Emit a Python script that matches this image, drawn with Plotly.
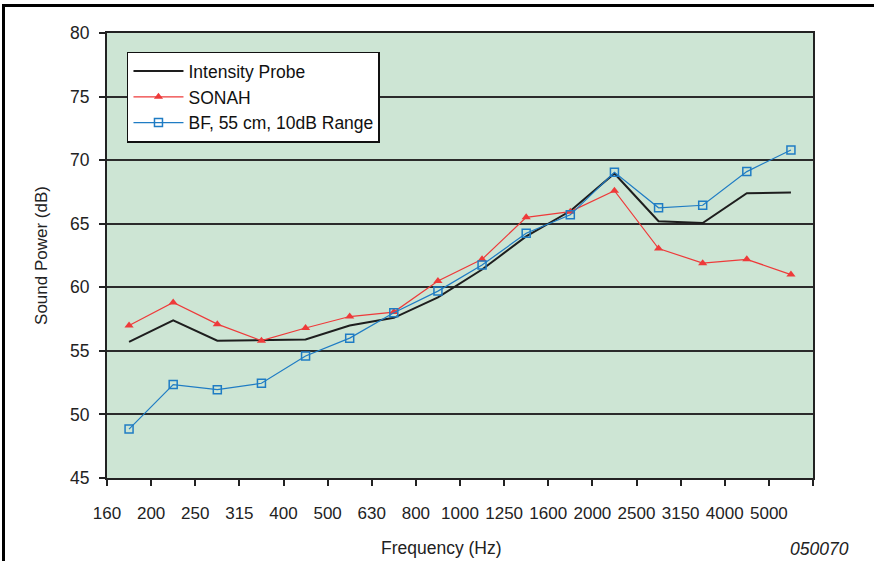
import plotly.graph_objects as go

freq_labels = ["160", "200", "250", "315", "400", "500", "630", "800", "1000",
               "1250", "1600", "2000", "2500", "3150", "4000", "5000"]

intensity_probe = [55.7, 57.4, 55.8, 55.85, 55.9, 57.0, 57.6, 59.2, 61.4, 64.0,
                   66.0, 68.95, 65.2, 65.05, 67.4, 67.45]
sonah = [57.0, 58.8, 57.1, 55.8, 56.8, 57.7, 58.05, 60.5, 62.2, 65.5,
         65.95, 67.6, 63.05, 61.9, 62.2, 61.0]
bf_55cm = [48.85, 52.35, 51.95, 52.45, 54.6, 56.0, 58.0, 59.7, 61.75, 64.25,
           65.7, 69.05, 66.25, 66.45, 69.1, 70.8]

# categories: points sit in the middle of each band, labels at band edges
x_pos = [i + 0.5 for i in range(len(freq_labels))]
tick_vals = list(range(len(freq_labels) + 1))
tick_text = freq_labels + [""]

FONT = "Liberation Sans, Arial, sans-serif"

fig = go.Figure()
fig.add_trace(go.Scatter(x=x_pos, y=intensity_probe, mode="lines",
                         name="Intensity Probe",
                         line=dict(color="#1e1e1e", width=2)))
fig.add_trace(go.Scatter(x=x_pos, y=sonah, mode="lines+markers", name="SONAH",
                         line=dict(color="#ee3a3a", width=1.2),
                         marker=dict(symbol="triangle-up", size=8, color="#ee3a3a")))
fig.add_trace(go.Scatter(x=x_pos, y=bf_55cm, mode="lines+markers",
                         name="BF, 55 cm, 10dB Range",
                         line=dict(color="#1f7cc4", width=1.2),
                         marker=dict(symbol="square-open", size=8, color="#1f7cc4",
                                     line=dict(width=1.5, color="#1f7cc4"))))

L, R, T, B = 107, 874 - 813, 33, 561 - 478
fig.update_layout(
    width=874, height=561,
    margin=dict(l=L, r=R, t=T, b=B, autoexpand=False),
    paper_bgcolor="white",
    plot_bgcolor="#cde5d4",
    font=dict(family=FONT, size=17, color="#222"),
    showlegend=True,
    legend=dict(x=0.0283, y=0.958, xanchor="left", yanchor="top",
                bgcolor="white", bordercolor="#111", borderwidth=1.5,
                font=dict(size=17.5, family=FONT, color="#111"),
                itemwidth=50, tracegroupgap=0),
    xaxis=dict(range=[0, 16], tickmode="array", tickvals=tick_vals,
               ticktext=tick_text, showgrid=False, zeroline=False,
               showline=True, linecolor="#222", linewidth=2, mirror=True,
               ticks="outside", ticklen=6, tickcolor="#222", tickwidth=1.5,
               ticklabelstandoff=13,
               tickfont=dict(size=17, family=FONT, color="#222")),
    yaxis=dict(range=[45, 80], dtick=5, tick0=45, showgrid=True,
               gridcolor="#2b2b2b", gridwidth=2, zeroline=False,
               showline=True, linecolor="#222", linewidth=2, mirror=True,
               ticks="outside", ticklen=6, tickcolor="#222", tickwidth=1.5,
               ticklabelstandoff=6,
               tickfont=dict(size=17.5, family=FONT, color="#222"),
               title=dict(text="Sound Power (dB)", standoff=18,
                          font=dict(size=17, family=FONT, color="#222"))),
    annotations=[
        dict(text="Frequency (Hz)", xref="paper", yref="paper",
             x=(441 - 107) / 706, y=(478 - 548) / 445, showarrow=False,
             xanchor="center", yanchor="middle",
             font=dict(size=17.5, family=FONT, color="#222")),
        dict(text="<i>050070</i>", xref="paper", yref="paper",
             x=(819 - 107) / 706, y=(478 - 549) / 445, showarrow=False,
             xanchor="center", yanchor="middle",
             font=dict(size=17.5, family=FONT, color="#222")),
    ],
    shapes=[
        dict(type="rect", xref="paper", yref="paper",
             x0=(3.5 - 107) / 706, x1=(900 - 107) / 706,
             y0=(478 - 600) / 445, y1=1 + (33 - 5.5) / 445,
             line=dict(color="black", width=3), layer="below"),
    ],
)

fig.write_html("out.html")
